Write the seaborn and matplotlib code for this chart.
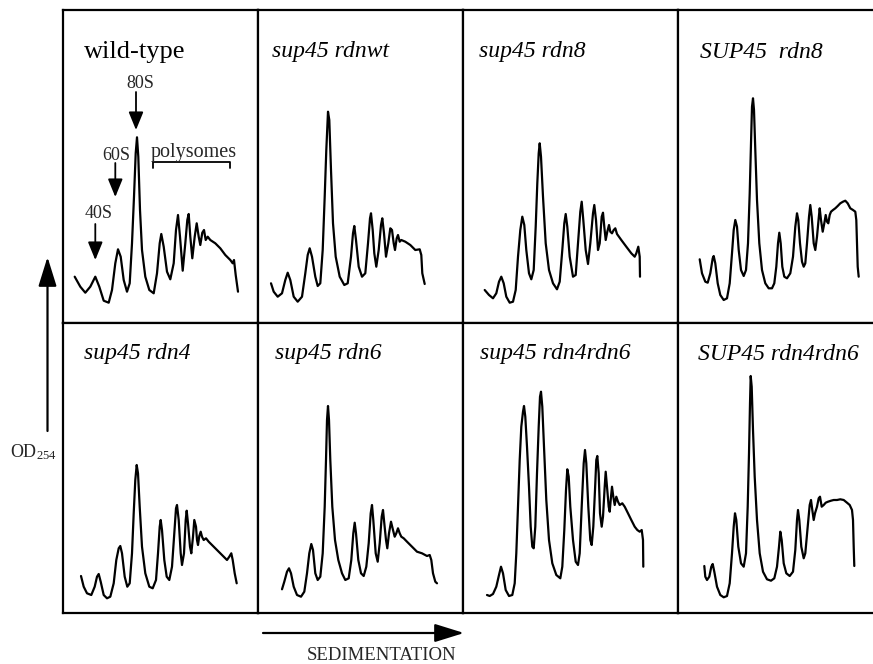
import numpy as np
import pandas as pd
import matplotlib
matplotlib.use("Agg")
import matplotlib.pyplot as plt
import seaborn as sns

# ---------------- data (x = sedimentation position, od = OD254 height) -------------
labels = ["wild-type", "sup45 rdnwt", "sup45 rdn8", "SUP45  rdn8",
          "sup45 rdn4", "sup45 rdn6", "sup45 rdn4rdn6", "SUP45 rdn4rdn6"]
label_italic = [False, True, True, True, True, True, True, True]

sed_wt = [11.7, 17.3, 22.3, 27.3, 32.3, 36.3, 40.7, 45.7, 49, 52.3, 55, 57.7, 60.7, 64, 66.7, 69, 71, 72.7, 74, 75.3,
          77, 79, 82.3, 86.3, 90.7, 94, 96.7, 98.3, 100.7, 104, 107.3, 110.7, 113, 115, 117, 119.7, 122.3, 124.3,
          125.7, 127.3, 129.3, 131.7, 133.7, 135.7, 137.3, 139.3, 141, 142.7, 144.7, 147.3, 152.3, 157.3, 162.3,
          167.3, 169.7, 171, 172.7, 175]
od_wt = [46.3, 36.3, 30.3, 36.3, 46.3, 36.3, 22.3, 20.3, 33, 59.7, 73.7, 66.3, 43, 31.3, 39.7, 79.7, 126.3, 169.7,
         185.7, 166.3, 113, 73, 46.3, 33, 29.7, 49.7, 79.7, 89, 76.3, 51.3, 43.7, 59.7, 93, 108, 86.3, 52.3, 79.7,
         103, 109, 86.3, 64.7, 86.3, 99.7, 86.3, 78, 90.3, 93, 83, 86.3, 83, 79.7, 74.7, 68, 63, 59.7, 63, 48, 31.3]

sed_rdnwt = [13, 15.7, 19.7, 24, 27.3, 29.7, 32.3, 35.7, 39.7, 44, 47.3, 49.7, 51.7, 54, 57.3, 59.7, 62.3, 64.7, 66.7,
             68.3, 70, 71.3, 73, 75, 77.7, 81.7, 86.3, 89.7, 93, 95, 96.3, 98, 100.7, 104, 107.3, 110, 112, 113,
             114.7, 116.3, 118.3, 120.7, 123, 124.3, 126, 128, 130.3, 132.3, 134, 135.7, 137, 138.7, 140, 141.7,
             143.3, 147.3, 152.3, 157.3, 161.7, 163.3, 164.3, 166.7]
od_rdnwt = [39.7, 31.3, 26.3, 29.7, 43, 50.3, 43, 26.3, 21.3, 26.3, 49.7, 68, 74.7, 66.3, 46.3, 37, 39.7, 73, 126.3,
            173, 211.3, 203, 153, 99.7, 66.3, 46.3, 38, 39.7, 66.3, 89.7, 97, 83, 56.3, 46.3, 49.7, 79.7, 104.7,
            109.7, 93, 69.7, 56.3, 73, 98, 104.7, 89.7, 66.3, 79.7, 94.7, 93, 79.7, 73, 84.7, 88, 81.3, 83, 81.3,
            78, 73, 73.7, 68, 49.7, 39]

sed_rdn8 = [21.7, 26, 30, 33.3, 36, 38.3, 40.7, 43.3, 46.7, 50, 52.7, 55, 57.3, 59.3, 61.3, 63.3, 66, 68.3, 70.7,
            72.7, 74.3, 75.7, 76.7, 78, 80, 82.7, 86, 90, 94, 96.7, 99.3, 101.3, 102.7, 104.3, 106.7, 110, 112.7,
            115, 117.3, 118.7, 120.3, 122.7, 125, 127.3, 130, 131.3, 133, 135, 136.7, 138.7, 140, 141.3, 142.7,
            144.3, 146, 147.3, 149, 150.7, 152.3, 154, 158.3, 163.3, 168.3, 171.7, 173.3, 175.3, 176.7, 177]
od_rdn8 = [33, 28, 24.7, 29.7, 41.3, 46.3, 39.7, 26.3, 20.3, 21.3, 33, 66.3, 93, 106.3, 98, 73, 49.7, 43.7, 53,
           96.3, 139.7, 169.7, 179.7, 166.3, 126.3, 79.7, 53, 39.7, 33.7, 41.3, 73, 99.7, 109, 96.3, 66.3, 46.3, 48,
           79.7, 111.3, 121.3, 103, 73, 59, 79.7, 109.7, 118, 103, 73, 79.7, 106.3, 110.3, 96.3, 83, 91.3, 98, 91.3,
           89.7, 93, 94.7, 89, 83, 76.3, 69.7, 66.3, 69.7, 76.3, 66.3, 46.3]

sed_SUP_rdn8 = [21.7, 24, 27.3, 29.7, 32.3, 34.7, 35.7, 37.3, 39.7, 42.3, 45.7, 49, 51.7, 54, 55.7, 57.3, 59, 60.7,
                63, 65.7, 68, 70, 71.7, 73, 74, 75, 76, 77.3, 79, 81.3, 84, 87.3, 90.7, 94, 96.3, 98.3, 100, 101.3,
                102.7, 104.3, 106.3, 109, 112.3, 115, 117.3, 119, 120.3, 122, 124, 125.7, 127.3, 129, 131, 132.3,
                133.7, 135.7, 137.3, 139, 140.7, 141.7, 143, 144.7, 146.3, 147.7, 149, 150.3, 151.7, 153, 155,
                157.3, 159.7, 162.3, 165, 167.3, 169.7, 172.3, 175, 177.3, 178.3, 179, 179.7, 180.7]
od_SUP_rdn8 = [63.7, 49.7, 41.3, 40.3, 49.7, 64.7, 67, 59.7, 39.7, 28, 23, 24.7, 39.7, 69.7, 93, 103, 96.3, 73, 53,
               47, 53, 79.7, 129.7, 179.7, 216.3, 224.7, 213, 173, 123, 79.7, 53, 39.7, 34.7, 34.7, 39.7, 56.3, 79.7,
               90.3, 79.7, 56.3, 46.3, 44.7, 49.7, 66.3, 96.3, 109.7, 103, 79.7, 61.3, 56.3, 59.7, 79.7, 106.3, 118,
               106.3, 79.7, 73, 86.3, 104.7, 114.7, 103, 91.3, 99.7, 108, 101.3, 99.7, 108, 111.3, 113, 114.7, 117,
               119.7, 121.3, 122.3, 119.7, 114.7, 113, 111.3, 103, 79.7, 56.3, 46.3]

sed_rdn4 = [18, 20.7, 24, 28.3, 31.7, 34, 35.7, 37.7, 40.7, 44, 47.3, 50.7, 53.3, 55.7, 57.3, 59, 61.7, 64.3, 66.7,
            69, 70.7, 72.3, 73.7, 75, 76.7, 79, 82.3, 86.3, 89.7, 93, 95, 96.7, 97.7, 99, 101.3, 103.7, 106.3, 109,
            111.3, 113, 114, 115.7, 117.7, 119, 121, 122.7, 123.7, 125, 127, 128.3, 130, 131.3, 133, 134, 135, 136.3,
            137.7, 139, 140.7, 143, 145.7, 150.7, 155.7, 160.7, 164, 166.3, 168.3, 169.7, 171.7, 173.7]
od_rdn4 = [37, 26.3, 19.7, 18, 26.3, 36.3, 39, 31.3, 18, 14.7, 16.3, 29.7, 53, 64.7, 67, 59.7, 36.3, 26.3, 29.7,
           59.7, 99.7, 133, 148, 139.7, 106.3, 66.3, 39.7, 26.3, 24.7, 33, 59.7, 86.3, 93, 83, 53, 36.3, 33, 46.3,
           79.7, 104.7, 108, 93, 59.7, 48, 59.7, 93, 102.3, 89.7, 66.3, 59.7, 76.3, 93, 86.3, 73, 68, 77, 81.3,
           76.3, 73, 74.7, 71.3, 66.3, 61.3, 56.3, 53, 56.3, 59.7, 53, 39.7, 29.7]

sed_rdn6 = [24, 26.3, 29, 31, 33, 35.7, 39, 43, 46.3, 49, 51.3, 53.3, 55, 57.3, 59.7, 62.3, 64.7, 66.7, 68, 69, 70,
            71, 72.3, 74.3, 77, 80.3, 84, 87.3, 90.7, 93.3, 95.3, 96.7, 98, 100.3, 103, 105.7, 108.3, 110.7, 112.7,
            114, 115.3, 117.7, 119.7, 121.7, 123.7, 125, 126.3, 128, 129.3, 131, 133, 135, 136.7, 138.3, 140,
            141.7, 143.3, 145.7, 149, 154, 159, 164, 169, 171.7, 173.3, 175, 177.3, 179]
od_rdn6 = [23.7, 31.3, 41.3, 44.7, 39.7, 26.3, 18, 16.3, 21.3, 39.7, 59.7, 69, 63, 39.7, 33, 36.3, 59.7, 106.3, 153,
           193, 207, 193, 153, 106.3, 73, 53, 39.7, 33, 34.7, 53, 79.7, 90.3, 79.7, 53, 39.7, 37, 46.3, 69.7, 99.7,
           108, 93, 59.7, 51.3, 69.7, 96.3, 103, 89.7, 73, 64.7, 79.7, 91.3, 83, 76.3, 79.7, 84.7, 79.7, 76.3,
           74.7, 71.3, 66.3, 61.3, 59.7, 57, 58, 53, 39.7, 31.3, 29.7]

sed_rdn4rdn6 = [24, 26.7, 30, 33.3, 36, 38, 40, 42.7, 46, 49.3, 51.7, 53.3, 55, 56.7, 58.3, 60, 61, 62.3, 64, 66,
                67.7, 69.3, 70.7, 72.3, 74, 75.7, 77, 78, 79.3, 81, 83.3, 86, 89.3, 93.3, 97.3, 99.3, 101.3, 103,
                104.3, 105.7, 107.3, 110, 112.7, 115, 116.7, 118.7, 120.7, 122, 123.3, 125.3, 127.3, 128.7, 130.3,
                132, 133.3, 134.3, 135.7, 137, 138.7, 140, 141.7, 142.7, 144, 145.7, 146.7, 148, 149, 150.3, 151.7,
                153.3, 155, 156.7, 159.3, 161.7, 165, 168.3, 171.7, 174.3, 176.7, 178.7, 180, 180.3]
od_rdn4rdn6 = [18, 17, 19, 26.3, 38, 46.3, 39.7, 23, 17, 18, 29.7, 59.7, 106.3, 153, 186.3, 201.3, 207, 196.3,
               166.3, 126.3, 86.3, 66.3, 64.7, 86.3, 139.7, 186.3, 216.3, 221.3, 206.3, 166.3, 113, 73, 49.7, 38,
               34.7, 46.3, 83, 123, 143.7, 136.3, 106.3, 73, 51.3, 48, 59.7, 106.3, 149.7, 163, 149.7, 106.3, 73, 68,
               86.3, 123, 153, 157, 139.7, 99.7, 86.3, 96.3, 126.3, 141.3, 126.3, 106.3, 101.3, 116.3, 126.3, 116.3,
               108, 116.3, 111.3, 108, 109.7, 106.3, 99.7, 93, 86.3, 83, 81.3, 83, 73, 46.3]

sed_SUP_rdn4rdn6 = [26.3, 27.3, 29, 31.3, 33.3, 34.7, 36.3, 39, 42.3, 45.7, 49, 51.7, 54, 55.7, 57, 58.3, 60.3, 63,
                    65.7, 68, 69.7, 71, 72, 72.7, 73.7, 75, 76.7, 79, 81.7, 85, 89, 93, 96.3, 99, 101, 102.3, 103.7,
                    105.7, 108.3, 111.7, 115, 117.3, 119, 120, 121.3, 123.3, 125.7, 127.3, 129.7, 131.7, 133, 134.3,
                    135.7, 137, 139, 140.7, 142, 143.7, 145.7, 147.7, 150, 153, 155.7, 159, 162.3, 165.7, 169, 171.7,
                    174, 175, 175.7, 176.3]
od_SUP_rdn4rdn6 = [47, 36.3, 33, 36.3, 46.3, 49, 41.3, 26.3, 18, 15.7, 17, 29.7, 59.7, 86.3, 99.7, 93, 66.3, 49.7,
                   46.3, 59.7, 106.3, 159.7, 209.7, 237, 226.3, 183, 136.3, 93, 59.7, 41.3, 33.7, 32.3, 34.7, 46.3,
                   66.3, 81.3, 73, 49.7, 39.7, 37, 41.3, 63, 93, 103, 93, 66.3, 54.7, 59.7, 86.3, 108, 113, 103, 93,
                   99.7, 106.3, 114.7, 116.3, 106.3, 108, 110.3, 111.3, 112.3, 113, 113, 113.7, 113, 110.3, 108, 103,
                   93, 66.3, 47]

traces = [(sed_wt, od_wt), (sed_rdnwt, od_rdnwt), (sed_rdn8, od_rdn8), (sed_SUP_rdn8, od_SUP_rdn8),
          (sed_rdn4, od_rdn4), (sed_rdn6, od_rdn6), (sed_rdn4rdn6, od_rdn4rdn6),
          (sed_SUP_rdn4rdn6, od_SUP_rdn4rdn6)]

peak_names = ["40S", "60S", "80S"]
bracket_label = "polysomes"

# ---------------- styling / layout ----------------
sns.set_theme(style="white")
plt.rcParams["font.family"] = ["Liberation Serif", "DejaVu Serif"]
plt.rcParams["mathtext.fontset"] = "custom"
plt.rcParams["mathtext.rm"] = "Liberation Serif"
plt.rcParams["mathtext.it"] = "Liberation Serif:italic"

W, H = 873, 664
fig = plt.figure(figsize=(W / 100, H / 100), dpi=100)
fig.patch.set_facecolor("white")

col_edges = [63, 258, 463, 678, 873]
row_edges = [10, 323, 613]
label_x = [21, 14, 16, 22, 21, 17, 17, 20]

axes = []
for i, ((sx, od), lab) in enumerate(zip(traces, labels)):
    r, c = divmod(i, 4)
    x0, x1 = col_edges[c], col_edges[c + 1]
    y0, y1 = row_edges[r], row_edges[r + 1]
    ax = fig.add_axes([x0 / W, 1 - y1 / H, (x1 - x0) / W, (y1 - y0) / H])
    df = pd.DataFrame({"sed": sx, "od": od})
    sns.lineplot(data=df, x="sed", y="od", ax=ax, color="black", lw=1.6,
                 sort=False, estimator=None)
    ax.set_xlim(0, x1 - x0)
    ax.set_ylim(0, y1 - y0)
    ax.set_xticks([])
    ax.set_yticks([])
    ax.set_xlabel("")
    ax.set_ylabel("")
    ax.set_facecolor("white")
    for s in ax.spines.values():
        s.set_visible(True)
        s.set_color("black")
        s.set_linewidth(1.6)
    if c == 3:
        ax.spines["right"].set_visible(False)
    ty = (y1 - y0) - (42 if r == 0 else 31)
    ax.text(label_x[i], ty, lab, fontsize=19 if not label_italic[i] else 17,
            style="italic" if label_italic[i] else "normal", va="center", ha="left", color="black")
    axes.append(ax)

# annotations in the wild-type panel
ax = axes[0]
arrow_kw = dict(arrowstyle="-|>,head_length=1.1,head_width=0.45", color="black", lw=1.3,
                mutation_scale=10, shrinkA=0, shrinkB=0)
ann = [("40S", (36, 109), (32.3, 99), (32.3, 63)),
       ("60S", (53, 168), (52.3, 160), (52.3, 126)),
       ("80S", (77, 240), (73, 231), (73, 193))]
for name, tpos, a0, a1 in ann:
    ax.text(tpos[0], tpos[1], name, fontsize=13, ha="center", va="center")
    ax.annotate("", xy=a1, xytext=a0, arrowprops=arrow_kw)
ax.text(131, 166, bracket_label, fontsize=14.5, ha="center", va="baseline")
ax.plot([89.7, 89.7, 167.3, 167.3], [155, 161.3, 161.3, 155], color="black", lw=1.3)

# outer axis labels with arrows
ov = fig.add_axes([0, 0, 1, 1], facecolor="none")
ov.set_xlim(0, W)
ov.set_ylim(H, 0)
ov.axis("off")
big_arrow = dict(arrowstyle="-|>,head_length=0.9,head_width=0.28", color="black", lw=1.6,
                 mutation_scale=20, shrinkA=0, shrinkB=0)
ov.annotate("", xy=(47.5, 257), xytext=(47.5, 431), arrowprops=big_arrow)
ov.text(33, 452, r"OD$_{\mathrm{254}}$", fontsize=13, ha="center", va="center")
ov.annotate("", xy=(464, 633), xytext=(263, 633), arrowprops=big_arrow)
ov.text(382, 656, "SEDIMENTATION", fontsize=13.5, ha="center", va="center")

fig.savefig("out.png", dpi=100, facecolor="white")
